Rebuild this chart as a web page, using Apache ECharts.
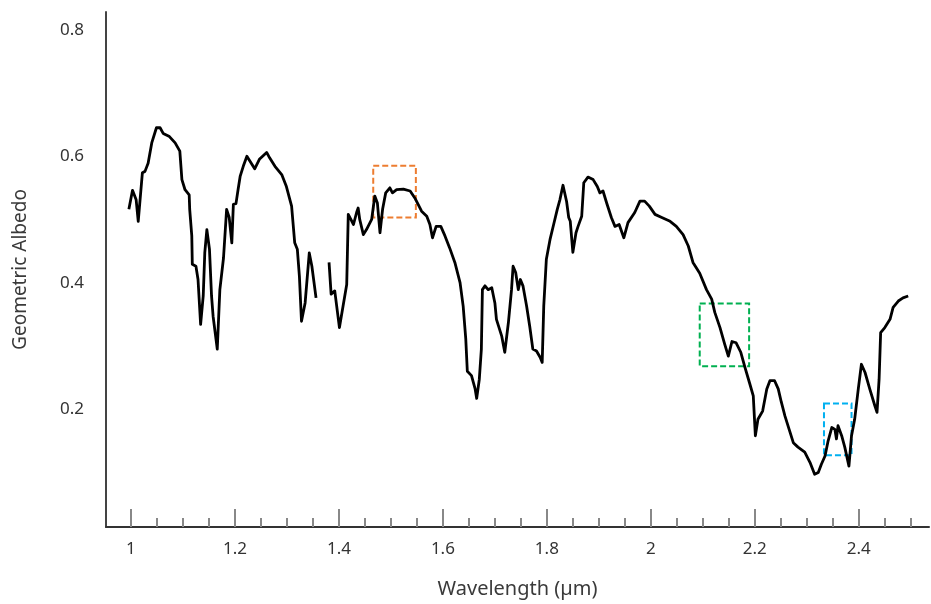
<!DOCTYPE html>
<html>
<head>
<meta charset="utf-8">
<script src="https://cdn.jsdelivr.net/npm/echarts@6/dist/echarts.min.js"></script>
<style>
  html, body {margin: 0; padding: 0; background: #fff;}
  #chart {width: 931px; height: 604px;}
</style>
</head>
<body>
<div id="chart"></div>
<script>
// wavelength (µm), one per point; null in albedo breaks the line
const wavelength = [
  0.996, 1.003, 1.010, 1.014, 1.022, 1.027, 1.033, 1.040, 1.049, 1.056,
  1.062, 1.074, 1.085, 1.094, 1.098, 1.104, 1.112, 1.113, 1.117, 1.118,
  1.125, 1.129, 1.134, 1.139, 1.142, 1.146, 1.151, 1.155, 1.158, 1.166,
  1.171, 1.178, 1.184, 1.189, 1.194, 1.197, 1.202, 1.206, 1.210, 1.216,
  1.223, 1.229, 1.238, 1.247, 1.261, 1.267, 1.277, 1.290, 1.299, 1.309,
  1.315, 1.320, 1.324, 1.328, 1.335, 1.343, 1.348, 1.356, 1.368,
  1.381, 1.385, 1.392, 1.401, 1.408, 1.415, 1.418, 1.423, 1.428, 1.434,
  1.437, 1.440, 1.447, 1.453, 1.463, 1.469, 1.474, 1.479, 1.484, 1.490,
  1.498, 1.503, 1.511, 1.524, 1.537, 1.546, 1.559, 1.569, 1.575, 1.580,
  1.587, 1.596, 1.604, 1.613, 1.623, 1.633, 1.639, 1.644, 1.647, 1.655,
  1.662, 1.665, 1.670, 1.674, 1.676, 1.681, 1.687, 1.694, 1.700, 1.703,
  1.713, 1.719, 1.726, 1.732, 1.735, 1.740, 1.745, 1.749, 1.754, 1.761,
  1.767, 1.773, 1.780, 1.787, 1.791, 1.794, 1.799, 1.806, 1.813, 1.820,
  1.825, 1.831, 1.838, 1.842, 1.845, 1.850, 1.856, 1.860, 1.867, 1.871,
  1.879, 1.889, 1.897, 1.902, 1.908, 1.915, 1.924, 1.931, 1.939, 1.948,
  1.956, 1.969, 1.979, 1.988, 1.997, 2.008, 2.021, 2.037, 2.049, 2.062,
  2.072, 2.081, 2.094, 2.107, 2.117, 2.123, 2.133, 2.142, 2.149, 2.156,
  2.164, 2.173, 2.181, 2.190, 2.197, 2.201, 2.206, 2.215, 2.223, 2.229,
  2.238, 2.245, 2.251, 2.258, 2.266, 2.274, 2.283, 2.296, 2.306, 2.315,
  2.322, 2.328, 2.335, 2.341, 2.348, 2.354, 2.357, 2.360, 2.367, 2.373,
  2.381, 2.386, 2.392, 2.399, 2.405, 2.412, 2.421, 2.431, 2.435, 2.439,
  2.442, 2.450, 2.460, 2.466, 2.476, 2.485, 2.495
];

const albedo = [
  0.516, 0.546, 0.531, 0.497, 0.574, 0.576, 0.589, 0.621, 0.645, 0.645,
  0.636, 0.631, 0.621, 0.608, 0.563, 0.547, 0.539, 0.516, 0.474, 0.429,
  0.426, 0.405, 0.334, 0.379, 0.447, 0.484, 0.453, 0.379, 0.347, 0.295,
  0.389, 0.439, 0.516, 0.503, 0.463, 0.524, 0.525, 0.547, 0.568, 0.584,
  0.600, 0.592, 0.580, 0.595, 0.606, 0.597, 0.584, 0.571, 0.552, 0.521,
  0.463, 0.453, 0.410, 0.339, 0.368, 0.447, 0.426, 0.376, null,
  0.432, 0.382, 0.387, 0.329, 0.363, 0.397, 0.508, 0.500, 0.492, 0.511,
  0.518, 0.500, 0.476, 0.484, 0.500, 0.537, 0.526, 0.479, 0.516, 0.542,
  0.550, 0.542, 0.547, 0.548, 0.545, 0.534, 0.513, 0.505, 0.492, 0.471,
  0.489, 0.489, 0.474, 0.455, 0.432, 0.400, 0.363, 0.311, 0.260, 0.253,
  0.232, 0.217, 0.247, 0.295, 0.389, 0.395, 0.389, 0.392, 0.368, 0.342,
  0.316, 0.290, 0.337, 0.389, 0.426, 0.416, 0.389, 0.405, 0.395, 0.363,
  0.331, 0.295, 0.292, 0.282, 0.274, 0.363, 0.437, 0.468, 0.492, 0.516,
  0.531, 0.554, 0.528, 0.503, 0.497, 0.448, 0.479, 0.489, 0.505, 0.558,
  0.567, 0.563, 0.552, 0.542, 0.545, 0.526, 0.503, 0.489, 0.492, 0.471,
  0.495, 0.511, 0.529, 0.529, 0.521, 0.508, 0.503, 0.497, 0.489, 0.476,
  0.458, 0.432, 0.415, 0.389, 0.374, 0.353, 0.329, 0.303, 0.284, 0.307,
  0.305, 0.290, 0.266, 0.241, 0.221, 0.158, 0.184, 0.197, 0.232, 0.245,
  0.245, 0.232, 0.211, 0.189, 0.168, 0.147, 0.140, 0.132, 0.116, 0.097,
  0.100, 0.113, 0.126, 0.150, 0.171, 0.168, 0.153, 0.174, 0.158, 0.140,
  0.110, 0.158, 0.184, 0.232, 0.271, 0.258, 0.232, 0.205, 0.195, 0.247,
  0.321, 0.329, 0.342, 0.361, 0.371, 0.376, 0.379
];

const majorTicks = [1, 1.2, 1.4, 1.6, 1.8, 2, 2.2, 2.4];
const minorTicks = [1.05, 1.1, 1.15, 1.25, 1.3, 1.35, 1.45, 1.5, 1.55, 1.65, 1.7, 1.75,
  1.85, 1.9, 1.95, 2.05, 2.1, 2.15, 2.25, 2.3, 2.35, 2.45, 2.5];
const yTicks = [0.2, 0.4, 0.6, 0.8];

// highlighted boxes: [x0, x1, y0, y1]
const boxOrange = [1.466, 1.548, 0.503, 0.585];
const boxGreen = [2.094, 2.189, 0.268, 0.367];
const boxBlue = [2.333, 2.386, 0.127, 0.209];

const xMin = 0.952, xMax = 2.535;
const yMin = 0.0137, yMax = 0.828;

const box = (b, color) => [
  {xAxis: b[0], yAxis: b[3], itemStyle: {color: 'rgba(0,0,0,0)', borderColor: color, borderWidth: 2, borderType: [6, 3]}},
  {xAxis: b[1], yAxis: b[2]}
];

const font = '"Noto Sans", "Open Sans", sans-serif';

const chart = echarts.init(document.getElementById('chart'));
chart.setOption({
  animation: false,
  grid: {left: 106, right: 2, top: 12, bottom: 76},
  xAxis: [
    {
      type: 'value',
      min: xMin,
      max: xMax,
      name: 'Wavelength (µm)',
      nameLocation: 'middle',
      nameGap: 52,
      nameTextStyle: {fontFamily: font, fontSize: 20, color: '#3a3a3a'},
      axisLine: {show: true, lineStyle: {color: '#333', width: 2}},
      axisTick: {show: true, inside: true, length: 9, customValues: minorTicks, lineStyle: {color: '#888', width: 2}},
      axisLabel: {customValues: majorTicks, margin: 14, fontFamily: font, fontSize: 17, color: '#333', formatter: v => String(+v.toFixed(2))},
      splitLine: {show: false}
    },
    {
      type: 'value',
      position: 'bottom',
      min: xMin,
      max: xMax,
      axisLine: {show: false},
      axisTick: {show: true, inside: true, length: 18, customValues: majorTicks, lineStyle: {color: '#888', width: 2}},
      axisLabel: {show: false},
      splitLine: {show: false}
    }
  ],
  yAxis: {
    type: 'value',
    min: yMin,
    max: yMax,
    name: 'Geometric Albedo',
    nameLocation: 'middle',
    nameGap: 76,
    nameTextStyle: {fontFamily: font, fontSize: 19, color: '#3a3a3a'},
    axisLine: {show: true, lineStyle: {color: '#444', width: 2}},
    axisTick: {show: false},
    axisLabel: {customValues: yTicks, margin: 22, fontFamily: font, fontSize: 17, color: '#333', formatter: v => v.toFixed(1)},
    splitLine: {show: false}
  },
  series: [{
    type: 'line',
    data: wavelength.map((w, i) => [w, albedo[i]]),
    symbol: 'none',
    connectNulls: false,
    lineStyle: {color: '#000', width: 2.8, join: 'round'},
    markArea: {
      silent: true,
      data: [box(boxOrange, '#ED7D31'), box(boxGreen, '#00B050'), box(boxBlue, '#00B0F0')]
    }
  }]
});
</script>
</body>
</html>
